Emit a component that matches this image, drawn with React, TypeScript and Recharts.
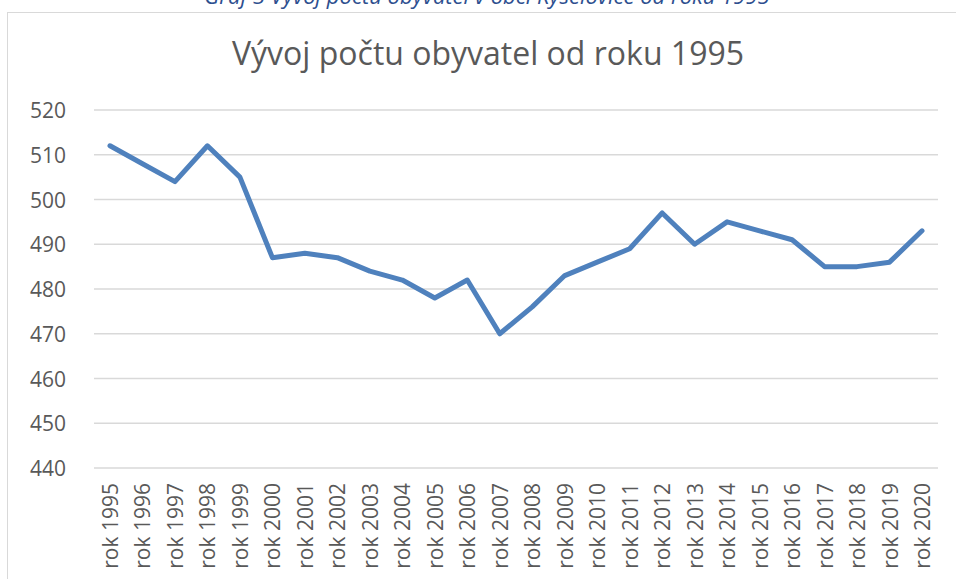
import React from "react";
import { LineChart, Line, XAxis, YAxis, CartesianGrid } from "recharts";

const years = ["rok 1995","rok 1996","rok 1997","rok 1998","rok 1999","rok 2000","rok 2001","rok 2002","rok 2003","rok 2004","rok 2005","rok 2006","rok 2007","rok 2008","rok 2009","rok 2010","rok 2011","rok 2012","rok 2013","rok 2014","rok 2015","rok 2016","rok 2017","rok 2018","rok 2019","rok 2020"];
const population = [512,508,504,512,505,487,488,487,484,482,478,482,470,476,483,486,489,497,490,495,493,491,485,485,486,493];
const yTicks = [440,450,460,470,480,490,500,510,520];

const data = years.map((y, i) => ({ year: y, value: population[i] }));

const FONT = "'Open Sans', 'Noto Sans', sans-serif";

const XTick = (props: any) => {
  const { x, payload } = props;
  return (
    <text
      x={x}
      y={483}
      transform={`rotate(-90 ${x} 483)`}
      textAnchor="end"
      dominantBaseline="central"
      fontSize={21}
      fill="#595959"
      fontFamily={FONT}
    >
      {payload.value}
    </text>
  );
};

const YTick = (props: any) => {
  const { y, payload } = props;
  return (
    <text x={66} y={y} textAnchor="end" dominantBaseline="central" fontSize={21} fill="#595959" fontFamily={FONT}>
      {payload.value}
    </text>
  );
};

export default function App() {
  return (
    <div style={{ position: "absolute", left: 0, top: 0, width: 956, height: 579, overflow: "hidden", background: "#fff" }}>
      <div
        style={{
          position: "absolute",
          left: 9,
          width: 956,
          top: -20,
          textAlign: "center",
          fontFamily: FONT,
          fontStyle: "italic",
          fontSize: 22,
          color: "#2E4F8F",
          whiteSpace: "nowrap",
        }}
      >
        Graf 3 Vývoj počtu obyvatel v obci Kyselovice od roku 1995
      </div>
      <div
        style={{
          position: "absolute",
          left: 7,
          top: 12,
          width: 960,
          height: 580,
          borderTop: "1.5px solid #D9D9D9",
          borderLeft: "1.5px solid #D9D9D9",
        }}
      />
      <div
        style={{
          position: "absolute",
          left: 10,
          width: 956,
          top: 31,
          textAlign: "center",
          fontFamily: FONT,
          fontSize: 32,
          color: "#595959",
          whiteSpace: "nowrap",
        }}
      >
        Vývoj počtu obyvatel od roku 1995
      </div>
      <div style={{ position: "absolute", left: 0, top: 0 }}>
        <LineChart width={956} height={579} data={data} margin={{ top: 110, right: 18, bottom: 0, left: 34 }}>
          <CartesianGrid vertical={false} stroke="#D9D9D9" strokeWidth={1.5} />
          <XAxis dataKey="year" axisLine={false} tickLine={false} interval={0} height={111} tick={<XTick />} padding={{ left: 16, right: 16 }} />
          <YAxis domain={[440, 520]} ticks={yTicks} axisLine={false} tickLine={false} width={60} tick={<YTick />} />
          <Line type="linear" dataKey="value" stroke="#4F81BD" strokeWidth={5} dot={false} isAnimationActive={false} strokeLinejoin="round" strokeLinecap="round" />
        </LineChart>
      </div>
    </div>
  );
}
